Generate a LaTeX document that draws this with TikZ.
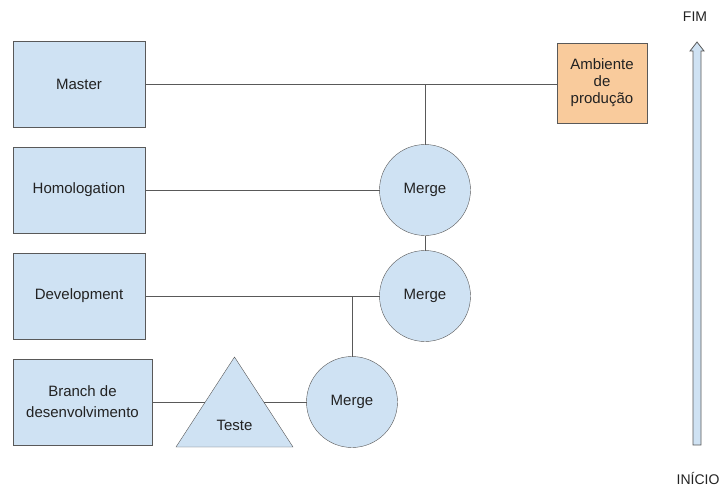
\documentclass[tikz,border=0pt]{standalone}
\usepackage{fontspec}
\setmainfont{Liberation Sans}
\usetikzlibrary{shapes.geometric,positioning}
\definecolor{boxblue}{HTML}{CFE2F3}
\definecolor{boxorange}{HTML}{F9CB9C}
\definecolor{edgegray}{HTML}{595959}
\definecolor{textgray}{HTML}{222222}

\begin{document}
\begin{tikzpicture}[x=1pt,y=-1pt,
    font=\fontsize{15}{17}\selectfont,
    branchbox/.style={rectangle, draw=edgegray, fill=boxblue, text=textgray, minimum width=132pt, minimum height=86pt, inner sep=0pt, outer sep=0pt, align=center},
    mergenode/.style={circle, draw=edgegray, fill=boxblue, text=textgray, minimum size=91pt, inner sep=0pt, outer sep=0pt},
    link/.style={draw=edgegray, line width=0.8pt}]
\useasboundingbox (0,0) rectangle (723,487);
                    % branches on the left
                    \node (master) [branchbox] at (79,84) {Master};
                    \node (homolog) [branchbox, below=20pt of master] {Homologation};
                    \node (devel) [branchbox, below=20pt of homolog] {Development};
                    \node (branch) [branchbox, minimum width=139pt, below=20pt of devel.south west, anchor=north west] {Branch de\\[4pt]desenvolvimento};
                    \node (amb) [branchbox, fill=boxorange, minimum width=90pt, minimum height=80pt] at (602,83) {Ambiente\\de\\produção};
                    % merges
                    \node (merge1) [mergenode] at (425,190) {Merge};
                    \node (merge2) [mergenode, below=15pt of merge1] {Merge};
                    \node (merge3) [mergenode] at (352,402) {Merge};
                    \node (teste) [isosceles triangle, shape border rotate=90, isosceles triangle stretches, minimum width=117pt, minimum height=90pt, inner sep=0pt, outer sep=0pt, draw=edgegray, fill=boxblue, anchor=apex] at (234.5,357) {};
                    \node (testetxt) [text=textgray] at ([yshift=-68pt]teste.apex) {Teste};
                    \coordinate (mastertap) at (merge1 |- master.east);
                    \coordinate (develtap) at (merge3 |- devel.east);
                \draw[link] (master.east) -- (master.east -| amb.west);
                \draw[link] (merge1) -- (mastertap);
                \draw[link] (homolog) -- (merge1);
                \draw[link] (merge1) -- (merge2);
                \draw[link] (devel) -- (merge2);
                \draw[link] (merge3) -- (develtap);
                \draw[link] (branch.east) -- (teste.left side);
                \draw[link] (teste.right side) -- (merge3.west);
                % time arrow
                \draw[draw=edgegray, fill=boxblue, line width=0.8pt] (693,445) -- (693,51) -- (690,51) -- (697,42) -- (704,51) -- (701,51) -- (701,445) -- cycle;
                \node (fim) [text=textgray, font=\fontsize{14}{16}\selectfont] at (695,17) {FIM};
                \node (inicio) [text=textgray, font=\fontsize{14}{16}\selectfont] at (698,478) {INÍCIO};
            \end{tikzpicture}
\end{document}
